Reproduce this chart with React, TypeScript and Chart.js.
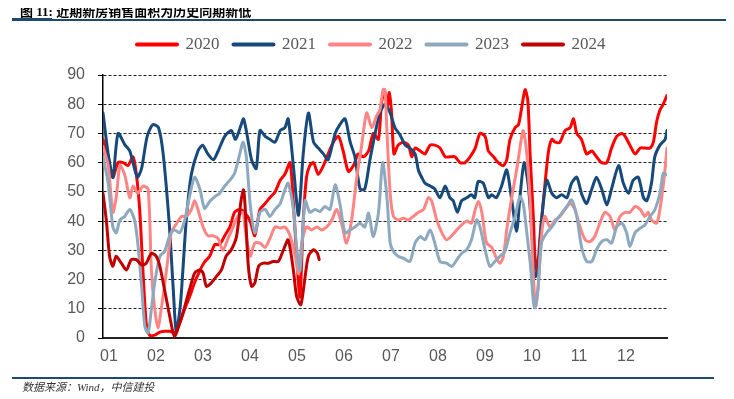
import React, { useEffect, useRef } from "react";
import { Chart, registerables } from "chart.js";

Chart.register(...registerables);

// [month position (0 = start of Jan, 12 = end of Dec), sales area]
const s2020: [number, number][] = [[0,68],[0.11,62],[0.21,55],[0.32,60],[0.43,60],[0.53,59],[0.64,62],[0.71,56],[0.78,44],[0.85,23],[0.92,5],[0.99,1],[1.1,1],[1.21,2],[1.31,2.3],[1.42,2.3],[1.53,1.7],[1.63,5],[1.74,10],[1.84,14],[1.95,19],[2.06,23],[2.16,26],[2.27,28],[2.38,32],[2.48,32],[2.59,35],[2.7,38],[2.8,43],[2.91,44],[3.01,43],[3.13,40],[3.23,35],[3.34,44],[3.45,46],[3.55,48],[3.66,50],[3.77,54],[3.87,56],[3.98,60],[4.05,46],[4.12,28],[4.19,14],[4.26,40],[4.33,55],[4.4,59],[4.48,60],[4.58,56],[4.69,59],[4.79,63],[4.9,67],[5.01,69],[5.11,64],[5.22,57],[5.33,59],[5.43,63],[5.54,62],[5.65,64],[5.75,70],[5.86,68],[5.93,81],[6.0,84],[6.05,79],[6.09,84],[6.14,77],[6.19,63],[6.28,66],[6.39,67],[6.5,66],[6.57,62],[6.64,65],[6.75,64],[6.85,63],[6.96,66],[7.06,66],[7.17,65],[7.28,62],[7.38,62],[7.49,62],[7.6,60],[7.7,60],[7.81,62],[7.92,65],[8.02,70],[8.13,69],[8.2,64],[8.31,62],[8.41,60],[8.52,59],[8.59,61],[8.66,68],[8.77,72],[8.84,73],[8.91,79],[8.98,85],[9.04,81],[9.09,62],[9.16,40],[9.19,28],[9.24,23],[9.3,35],[9.4,52],[9.48,64],[9.55,68],[9.62,67],[9.72,67],[9.83,71],[9.94,72],[10.01,75],[10.08,70],[10.18,68],[10.29,63],[10.4,64],[10.5,62],[10.61,60],[10.72,60],[10.82,65],[10.93,69],[11.04,70],[11.11,69],[11.21,66],[11.32,63],[11.43,65],[11.53,65],[11.64,65],[11.71,67],[11.78,74],[11.85,78],[11.92,80],[12,83]];

const s2021: [number, number][] = [[0,77],[0.11,63],[0.21,55],[0.32,70],[0.47,66],[0.57,64],[0.73,55],[0.82,58],[0.94,69],[1.06,73],[1.18,72],[1.28,63],[1.41,39],[1.49,18],[1.56,2],[1.65,12],[1.77,40],[1.88,56],[2.02,64],[2.12,66],[2.23,63],[2.35,61],[2.45,64],[2.59,69],[2.73,71],[2.82,68],[2.94,73],[2.99,75],[3.06,70],[3.16,61],[3.26,58],[3.34,71],[3.45,69],[3.55,68],[3.66,67],[3.77,71],[3.87,72],[3.94,75],[4.05,59],[4.16,42],[4.26,63],[4.37,77],[4.48,67],[4.58,65],[4.69,63],[4.79,61],[4.94,70],[5.04,73],[5.15,75],[5.26,67],[5.36,62],[5.47,51],[5.57,51],[5.68,61],[5.79,70],[5.89,77],[6.0,80],[6.11,77],[6.21,72],[6.32,69.5],[6.43,66],[6.53,65],[6.64,63],[6.71,57.5],[6.78,55],[6.85,53],[6.96,52],[7.06,51],[7.17,48],[7.28,52],[7.38,48],[7.45,47],[7.54,43],[7.63,47],[7.74,48],[7.84,49],[7.91,48],[7.98,53.5],[8.09,53],[8.2,48],[8.27,49],[8.37,48],[8.48,52],[8.59,57.5],[8.69,48],[8.8,36.5],[8.87,48],[8.96,60],[9.05,52],[9.12,37],[9.19,21],[9.26,23],[9.33,40],[9.44,54],[9.55,49.5],[9.65,48],[9.76,49],[9.87,48],[9.97,53],[10.08,55],[10.19,49],[10.29,46],[10.4,51],[10.5,55],[10.61,51],[10.72,45.5],[10.82,51],[10.97,59],[11.07,53],[11.18,49.5],[11.28,54],[11.39,55],[11.5,48],[11.57,47],[11.67,53],[11.74,62],[11.85,66],[11.96,68],[12,71]];

const s2022: [number, number][] = [[0,65.5],[0.11,59],[0.21,43],[0.28,48],[0.36,59],[0.46,56],[0.57,48],[0.64,52],[0.74,49.5],[0.85,52],[0.96,51],[1.03,23],[1.1,10],[1.17,3.4],[1.24,10],[1.31,18],[1.38,27],[1.45,36],[1.56,39],[1.67,41.6],[1.77,41.6],[1.88,44],[1.95,47],[2.02,44],[2.13,38],[2.23,35],[2.34,35],[2.45,34],[2.55,30],[2.66,34],[2.77,38],[2.87,41.6],[2.98,43],[3.02,38],[3.13,28],[3.23,32.5],[3.34,32.5],[3.45,31],[3.55,34],[3.66,38],[3.77,37.6],[3.87,38],[3.98,35],[4.09,28],[4.16,22],[4.23,32.5],[4.33,38],[4.44,37],[4.55,38],[4.65,37],[4.76,38],[4.87,40.4],[4.97,44],[5.08,39],[5.18,32.5],[5.29,40.4],[5.4,55],[5.5,65.5],[5.61,77],[5.72,72],[5.82,76],[5.89,78],[5.96,85],[6.0,85],[6.04,71],[6.11,49.5],[6.18,41.6],[6.28,40.4],[6.39,41],[6.5,40.4],[6.6,41.6],[6.71,43],[6.82,44],[6.92,48],[6.99,47],[7.1,40.4],[7.21,36],[7.31,33.6],[7.42,35],[7.53,37],[7.63,38.7],[7.74,40],[7.84,39.3],[7.92,44],[7.99,46.7],[8.06,43],[8.16,32.5],[8.27,31],[8.38,27],[8.45,25.6],[8.52,28],[8.59,37],[8.7,48.4],[8.8,57.5],[8.91,69],[8.94,71],[9.01,64],[9.09,46],[9.16,20],[9.21,11],[9.26,18],[9.33,35],[9.4,41.6],[9.51,38],[9.62,40.4],[9.72,41.6],[9.83,44],[9.94,46],[10.04,44],[10.15,38],[10.26,33.6],[10.36,33],[10.47,35],[10.57,39.3],[10.68,43],[10.79,41.6],[10.89,37],[11.0,41.6],[11.11,43],[11.21,43],[11.32,45],[11.43,44],[11.53,41.6],[11.6,43],[11.67,40.4],[11.78,39.3],[11.85,44],[11.94,55],[12,65]];

const s2023: [number, number][] = [[0,62],[0.11,53],[0.21,38],[0.28,36],[0.36,40.4],[0.46,41.6],[0.57,44],[0.67,40.4],[0.74,32.5],[0.82,18],[0.89,4],[0.96,1.7],[1.03,10],[1.1,19],[1.21,28],[1.31,29.6],[1.42,35],[1.52,37],[1.63,36],[1.74,40.4],[1.84,48.4],[1.95,55],[2.06,51],[2.16,44.4],[2.27,46.7],[2.38,48.4],[2.48,49.5],[2.59,52],[2.7,54],[2.8,56.4],[2.91,63],[2.98,67],[3.05,62],[3.13,46],[3.23,36],[3.34,43],[3.45,44],[3.55,41.6],[3.66,44],[3.77,46],[3.87,50.7],[3.94,53],[4.05,44],[4.12,31],[4.19,23],[4.3,47],[4.4,43],[4.51,44],[4.62,43.3],[4.72,45],[4.83,44],[4.94,52.4],[5.04,46],[5.15,36],[5.26,37],[5.36,38],[5.47,39.3],[5.57,38],[5.65,42.7],[5.75,34.7],[5.86,42.7],[5.95,60],[6.04,48.4],[6.11,32.5],[6.18,29.6],[6.28,28],[6.39,27.3],[6.53,26.2],[6.64,32.5],[6.75,34.7],[6.85,33.6],[6.96,37],[7.06,32.5],[7.17,26.2],[7.31,25.6],[7.42,24.5],[7.53,26.8],[7.63,29],[7.74,30.2],[7.84,33.6],[7.95,40.4],[8.02,38],[8.13,30.2],[8.23,24.5],[8.34,26.2],[8.45,28],[8.55,29.6],[8.66,36],[8.77,41.6],[8.87,48.4],[8.94,46],[9.01,37],[9.09,25.6],[9.16,12],[9.19,10.3],[9.26,17.7],[9.33,32.5],[9.44,36],[9.55,38],[9.65,40.4],[9.76,42.7],[9.87,45],[9.97,47.3],[10.08,41.6],[10.18,31.3],[10.29,26.2],[10.4,26.2],[10.5,30.2],[10.61,33],[10.72,33.6],[10.82,32.5],[10.93,38],[11.04,39.3],[11.14,36],[11.21,31.3],[11.32,36],[11.43,37.6],[11.53,38.7],[11.64,41.6],[11.74,43.8],[11.85,49.5],[11.92,56.4],[12,55.8]];

const s2024: [number, number][] = [[0,49.5],[0.07,40.4],[0.14,28],[0.21,24.5],[0.28,28],[0.39,25.6],[0.5,23.3],[0.6,26.8],[0.71,26.8],[0.82,25],[0.92,25.6],[1.03,29],[1.13,28],[1.21,24.5],[1.31,16.5],[1.42,7.4],[1.52,0.6],[1.63,5],[1.74,10.8],[1.84,16.5],[1.95,22.2],[2.06,23.3],[2.13,22.2],[2.2,17.7],[2.3,18.8],[2.41,21],[2.52,23.3],[2.62,28],[2.73,30.2],[2.84,34.7],[2.94,47.3],[2.99,50.7],[3.02,46],[3.09,25],[3.16,17.7],[3.23,18.8],[3.31,24.5],[3.41,25.6],[3.52,25.6],[3.62,26.2],[3.73,26.2],[3.84,30.2],[3.94,33.6],[4.05,23.3],[4.12,14.2],[4.21,11.4],[4.3,21],[4.37,28],[4.48,30.2],[4.56,29],[4.6,26.8]];

const seriesNames = ["2020", "2021", "2022", "2023", "2024"];
const seriesData = [s2020, s2021, s2022, s2023, s2024];
const seriesColors = ["#FF0000", "#17497A", "#FF8585", "#8DA9BF", "#C00000"];
const monthLabels = ["01", "02", "03", "04", "05", "06", "07", "08", "09", "10", "11", "12"];
const yMin = 0;
const yMax = 90;
const yStep = 10;

const TITLE_HEAD = "图";
const TITLE_NUM = " 11: ";
const TITLE_TEXT = "近期新房销售面积为历史同期新低";
const SOURCE = "数据来源：Wind，中信建投";

export default function App() {
  const canvasRef = useRef<HTMLCanvasElement | null>(null);

  useEffect(() => {
    const canvas = canvasRef.current;
    if (!canvas) return;

    const layoutPlugin = {
      id: "layoutTweak",
      beforeInit(chart: any) {
        const fit = chart.legend.fit;
        chart.legend.fit = function () {
          fit.call(this);
          this.height = 53;
        };
      },
      beforeDraw(chart: any) {
        const lg = chart.legend;
        const w = lg.right - lg.left;
        lg.left = 123;
        lg.right = 123 + w;
      },
    };

    const chart = new Chart(canvas, {
      type: "line",
      data: {
        datasets: seriesNames.map((name, i) => ({
          label: name,
          data: seriesData[i].map(([x, y]) => ({ x, y })),
          borderColor: seriesColors[i],
          fill: false,
          borderWidth: 3,
          pointRadius: 0,
          tension: 0.25,
          borderCapStyle: "round",
          borderJoinStyle: "round",
          order: seriesNames.length - i,
        })),
      },
      options: {
        responsive: false,
        animation: false,
        devicePixelRatio: 1,
        events: [],
        layout: { padding: { top: 22, right: 67, left: 0, bottom: 0 } },
        plugins: {
          tooltip: { enabled: false },
          legend: {
            display: true,
            position: "top",
            align: "start",
            labels: {
              usePointStyle: true,
              pointStyle: "line",
              pointStyleWidth: 40,
              padding: 14,
              color: "#595959",
              font: { family: "'Liberation Serif', 'DejaVu Serif', serif", size: 17 },
              generateLabels: (ch: any) => {
                const items = Chart.defaults.plugins.legend.labels.generateLabels(ch);
                return items
                  .sort((a: any, b: any) => a.datasetIndex - b.datasetIndex)
                  .map((it: any) => ({
                    ...it,
                    fillStyle: seriesColors[it.datasetIndex],
                    strokeStyle: seriesColors[it.datasetIndex],
                    lineWidth: 4,
                    lineCap: "round",
                    pointStyle: "line",
                  }));
              },
            },
          },
        },
        scales: {
          x: {
            type: "linear",
            min: 0,
            max: 12,
            afterFit: (s: any) => {
              s.height = 61;
            },
            grid: { display: false, drawTicks: false },
            border: { display: true, color: "#222", width: 2 },
            ticks: {
              stepSize: 1,
              autoSkip: false,
              maxRotation: 0,
              padding: 9,
              labelOffset: 6,
              color: "#595959",
              font: { family: "'Liberation Sans', Arial, sans-serif", size: 16 },
              callback: (v: any) => (v >= 0 && v < 12 ? monthLabels[v] : ""),
            },
          },
          y: {
            type: "linear",
            min: yMin,
            max: yMax,
            afterFit: (s: any) => {
              s.width = 103;
            },
            grid: { color: "#222", lineWidth: 1, tickLength: 5, tickColor: "#000" },
            border: { display: true, color: "#000", width: 1.5, dash: [3, 2] },
            ticks: {
              stepSize: yStep,
              padding: 13,
              color: "#595959",
              font: { family: "'Liberation Sans', Arial, sans-serif", size: 16 },
            },
          },
        },
      },
      plugins: [layoutPlugin],
    } as any);

    return () => chart.destroy();
  }, []);

  return (
    <div
      style={{
        position: "relative",
        marginLeft: -8,
        marginTop: -8,
        width: 734,
        height: 399,
        background: "#fff",
      }}
    >
      <canvas ref={canvasRef} width={734} height={399} style={{ display: "block" }} />
      <div
        style={{
          position: "absolute",
          left: 20,
          top: 3,
          fontFamily: "'Liberation Serif', 'Noto Sans CJK SC', serif",
          fontWeight: "bold",
          fontSize: 13,
          color: "#000",
          whiteSpace: "pre",
          lineHeight: "16px",
        }}
      >
        <span style={{ fontFamily: "'Noto Sans CJK SC', sans-serif" }}>{TITLE_HEAD}</span>
        <span>{TITLE_NUM}</span>
        <span style={{ fontFamily: "'Noto Sans CJK SC', sans-serif" }}>{TITLE_TEXT}</span>
      </div>
      <div style={{ position: "absolute", left: 12, top: 19, width: 722, height: 2, background: "#1C4A70" }} />
      <div style={{ position: "absolute", left: 12, top: 18, width: 40, height: 3, background: "#1C4A70" }} />
      <div style={{ position: "absolute", left: 12, top: 377, width: 702, height: 2, background: "#1C4A70" }} />
      <div
        style={{
          position: "absolute",
          left: 22,
          top: 380,
          fontFamily: "'Liberation Serif', 'Noto Sans CJK SC', serif",
          fontStyle: "italic",
          fontSize: 11,
          color: "#333",
          whiteSpace: "nowrap",
          lineHeight: "14px",
        }}
      >
        {SOURCE}
      </div>
    </div>
  );
}
